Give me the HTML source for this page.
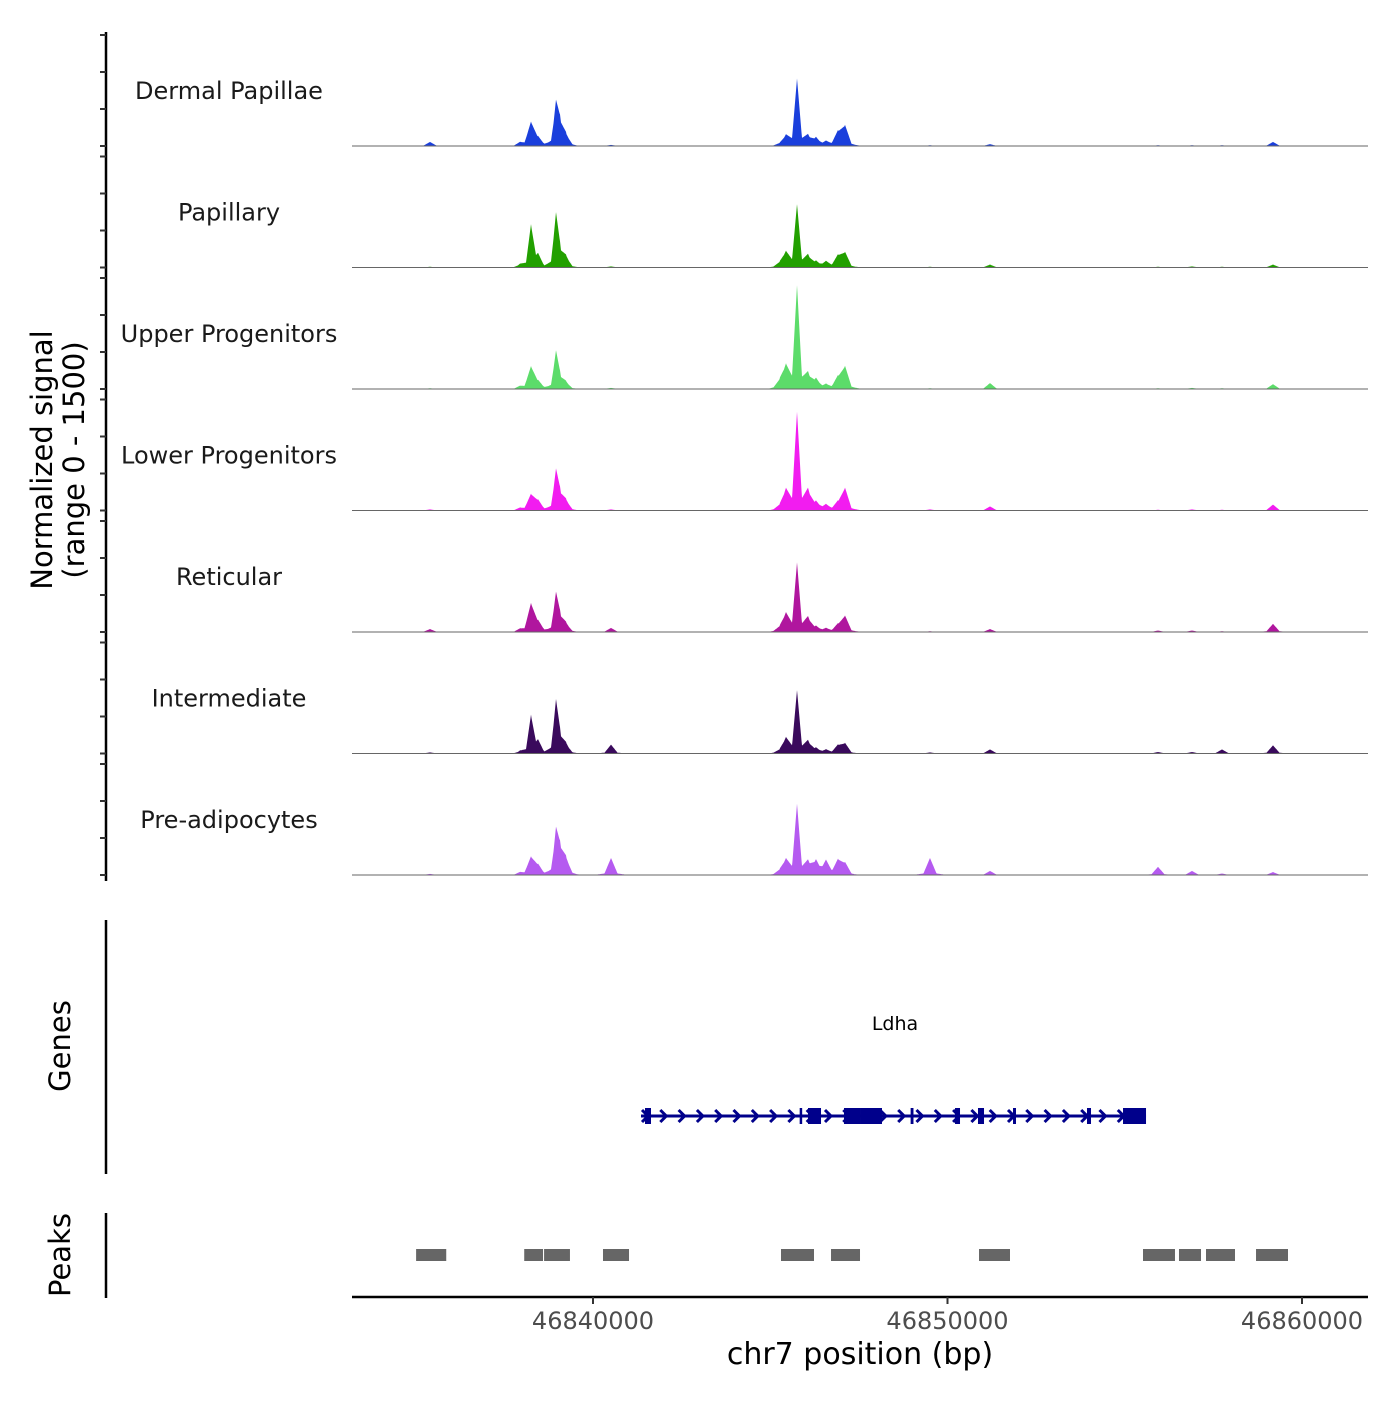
<!DOCTYPE html>
<html><head><meta charset="utf-8"><style>
body{margin:0;background:#fff;}
svg text{font-family:"DejaVu Sans","Liberation Sans",sans-serif;}
</style></head><body>
<svg id="c" width="1400" height="1400" viewBox="0 0 1400 1400" xmlns="http://www.w3.org/2000/svg">
<rect width="1400" height="1400" fill="#fff"/>
<g id="tracks"></g>
<g id="genes"></g>
<g id="peaks"></g>
<g id="axes"></g>
</svg>
<script>
const trackNames = ["Dermal Papillae","Papillary","Upper Progenitors","Lower Progenitors","Reticular","Intermediate","Pre-adipocytes"];
const trackColors = ["#1a3fdc","#22a000","#5cdc6a","#f21cf0","#b0169e","#3a0a5c","#b55af0"];
const peakPos = [46835402,46837941,46838251,46838449,46838956,46839069,46839238,46840508,46845275,46845444,46845755,46846065,46846290,46846572,46846911,46847109,46849506,46851199,46855938,46856897,46857743,46859182];
// values per track (0-1500) at peakPos
const sigDermal   = [55,40,320,110,500,270,130,15,30,135,900,135,110,60,190,270,10,25,10,10,10,55];
const sigPapillary= [10,40,570,160,675,150,130,15,60,200,840,160,80,80,160,200,10,40,10,15,10,40];
const sigUpper    = [10,30,300,100,470,110,80,15,110,300,1380,200,135,60,160,300,10,80,10,15,10,65];
const sigLower    = [15,30,215,135,485,175,120,15,60,270,1310,270,110,80,110,300,15,55,10,15,10,80];
const sigReticular= [40,30,380,135,470,160,100,55,60,240,920,190,70,50,100,215,10,40,20,20,10,110];
const sigInterm   = [15,30,510,160,660,160,110,120,40,200,840,160,70,50,110,135,15,55,20,20,55,110];
const sigPreadip  = [15,30,240,135,510,300,200,230,60,200,945,175,190,190,200,160,230,55,110,55,20,40];
const trackSignals = [sigDermal,sigPapillary,sigUpper,sigLower,sigReticular,sigInterm,sigPreadip];
const xTicks = [46840000,46850000,46860000];
const xTickLabels = ["46840000","46850000","46860000"];
const geneStart = 46841354, geneEnd = 46855600;
const exonStarts = [46841467,46845830,46846065,46847080,46847532,46848960,46850212,46850860,46851848,46853935,46854951];
const exonEnds   = [46841636,46845900,46846432,46847532,46848152,46849040,46850353,46851030,46851932,46854048,46855600];
const peakStarts = [46835010,46838060,46838620,46840282,46845303,46846714,46850889,46855515,46856530,46857292,46858703];
const peakEnds   = [46835860,46838590,46839350,46841016,46846234,46847532,46851763,46856417,46857151,46858110,46859605];

const NS="http://www.w3.org/2000/svg";
const X0=352,X1=1368;
function xs(bp){return 593+(bp-46840000)*0.03545;}
const baselines=[146,267.5,389,510.5,632,753.5,875];
const trackH=111;
function ys(v,i){return baselines[i]-v/1500*trackH;}
function mk(tag,attrs,parent){const e=document.createElementNS(NS,tag);for(const k in attrs)e.setAttribute(k,attrs[k]);parent.appendChild(e);return e;}

const tg=document.getElementById('tracks');
trackSignals.forEach((sig,i)=>{
  const g=mk('g',{},tg);
  
  
  let pts=[];
  for(let px=X0;px<=X1;px+=0.5){
    let v=0;
    sig.forEach((val,k)=>{const d=Math.abs(px-xs(peakPos[k]));const w=val>400?5:6.5;
      if(d<w)v+=val*(1-d/w)*0.85;
      if(d<w*2.6)v+=val*0.15*(1-d/(w*2.6));});
    pts.push(px.toFixed(1)+','+ys(Math.min(v,1500),i).toFixed(1));
  }
  const p=mk('polygon',{points:X0+','+baselines[i]+' '+pts.join(' ')+' '+X1+','+baselines[i],fill:trackColors[i]},g);
  
  
  const l=mk('line',{x1:X0,x2:X1,y1:baselines[i],y2:baselines[i],stroke:'#666','stroke-width':1},g);
  
  
  const t=mk('text',{x:229,y:baselines[i]-47,'text-anchor':'middle','font-size':24,fill:'#1a1a1a'},g);
  t.textContent=trackNames[i];
  
  
});

const ax=document.getElementById('axes');
mk('line',{x1:106,x2:106,y1:32,y2:881,stroke:'#000','stroke-width':2.5},ax);
baselines.forEach((b,i)=>{[0,500,1000,1500].forEach(v=>{mk('line',{x1:100,x2:106,y1:ys(v,i),y2:ys(v,i),stroke:'#333','stroke-width':2},ax);});});
mk('line',{x1:106,x2:106,y1:920,y2:1174,stroke:'#000','stroke-width':2.5},ax);
mk('line',{x1:106,x2:106,y1:1213,y2:1298,stroke:'#000','stroke-width':2.5},ax);
const yt=mk('text',{transform:'translate(52,460) rotate(-90)','text-anchor':'middle','font-size':29,fill:'#000'},ax);
yt.textContent='Normalized signal';


const yt2=mk('text',{transform:'translate(84,460) rotate(-90)','text-anchor':'middle','font-size':29,fill:'#000'},ax);
yt2.textContent='(range 0 - 1500)';


const gt=mk('text',{transform:'translate(70,1046) rotate(-90)','text-anchor':'middle','font-size':29,fill:'#000'},ax);
gt.textContent='Genes';


const pt=mk('text',{transform:'translate(70,1255) rotate(-90)','text-anchor':'middle','font-size':29,fill:'#000'},ax);
pt.textContent='Peaks';


mk('line',{x1:X0,x2:X1,y1:1297,y2:1297,stroke:'#000','stroke-width':2.5},ax);
xTicks.forEach((t,k)=>{
  mk('line',{x1:xs(t),x2:xs(t),y1:1297,y2:1304,stroke:'#333','stroke-width':2},ax);
  const tx=mk('text',{x:xs(t),y:1329,'text-anchor':'middle','font-size':24,fill:'#4d4d4d'},ax);
  tx.textContent=xTickLabels[k];
  
  
});
const xt=mk('text',{x:860,y:1364,'text-anchor':'middle','font-size':30,fill:'#000'},ax);
xt.textContent='chr7 position (bp)';



const gg=document.getElementById('genes');
const gl=mk('text',{x:895,y:1030,'text-anchor':'middle','font-size':19,fill:'#000'},gg);
gl.textContent='Ldha';


const gy=1116;
mk('line',{x1:xs(geneStart),x2:xs(geneEnd),y1:gy,y2:gy,stroke:'#00008b','stroke-width':3},gg);
for(let px=xs(geneStart)+1;px<xs(geneEnd)-10;px+=18.3){
  mk('polyline',{points:(px)+','+(gy-6)+' '+(px+6)+','+gy+' '+(px)+','+(gy+6),fill:'none',stroke:'#00008b','stroke-width':3},gg);
}
exonStarts.forEach((s,k)=>{
  const r=mk('rect',{x:xs(s),y:gy-8,width:Math.max(2.5,xs(exonEnds[k])-xs(s)),height:16,fill:'#00008b'},gg);
  
  
});
const pg=document.getElementById('peaks');
peakStarts.forEach((s,k)=>{
  const r=mk('rect',{x:xs(s),y:1249,width:xs(peakEnds[k])-xs(s),height:12,fill:'#666'},pg);
  
  
});
</script>
</body></html>
